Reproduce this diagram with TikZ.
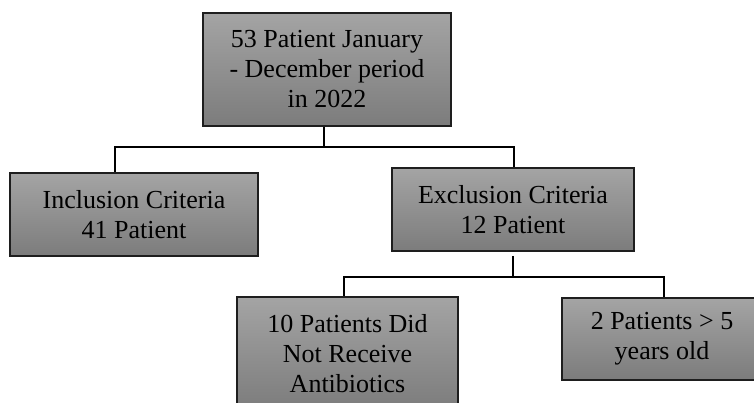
\documentclass[tikz,border=0pt]{standalone}
\usepackage{fontspec}
\setmainfont{Liberation Serif}
\definecolor{gtop}{RGB}{164,164,164}
\definecolor{gbot}{RGB}{124,124,124}
\definecolor{boxborder}{RGB}{30,30,30}
\definecolor{shadowgray}{RGB}{170,170,170}
\begin{document}
\begin{tikzpicture}[x=1pt,y=1pt,
  box/.style={draw=boxborder, line width=1.3pt, top color=gtop, bottom color=gbot,
    align=center, inner sep=0pt, font=\fontsize{26}{30}\selectfont},
  conn/.style={line width=1.5pt, black},
  connshadow/.style={line width=2.5pt, shadowgray}]
\useasboundingbox (0,0) rectangle (754,403);
% boxes
\node[box, minimum width=248pt, minimum height=113pt] (top) at (327,333.5) {53 Patient January\\- December period\\in 2022};
\node[box, minimum width=248pt, minimum height=83pt] (L) at (134,188.5) {Inclusion Criteria\\41 Patient};
\node[box, minimum width=242pt, minimum height=83pt] (E) at (513,193.5) {Exclusion Criteria\\12 Patient};
\node[box, minimum width=221pt, minimum height=113pt] (BL) at (347.5,49.5) {10 Patients Did\\Not Receive\\Antibiotics};
\node[box, minimum width=200pt, minimum height=82pt] (BR) at (662,64) {2 Patients > 5\\years old};
% junction coordinates
\coordinate (j1) at (324,256);
\coordinate (barL) at (115,256);
\coordinate (barR) at (514,256);
\coordinate (s2) at (513,147);
\coordinate (j2) at (513,126);
\coordinate (bar2L) at (344,126);
\coordinate (bar2R) at (664,126);
% shadows
\begin{scope}[yshift=-3.5pt, xshift=0.5pt]
\draw[connshadow] (barL |- L.north) -- (barL) -- (barR) -- (barR |- E.north);
\draw[connshadow] (bar2L |- BL.north) -- (bar2L) -- (bar2R) -- (bar2R |- BR.north);
\end{scope}
% connectors
\draw[conn] (top.south -| j1) -- (j1);
\draw[conn] (barL |- L.north) -- (barL) -- (barR) -- (barR |- E.north);
\draw[conn] (s2) -- (j2);
\draw[conn] (bar2L |- BL.north) -- (bar2L) -- (bar2R) -- (bar2R |- BR.north);
\end{tikzpicture}
\end{document}
